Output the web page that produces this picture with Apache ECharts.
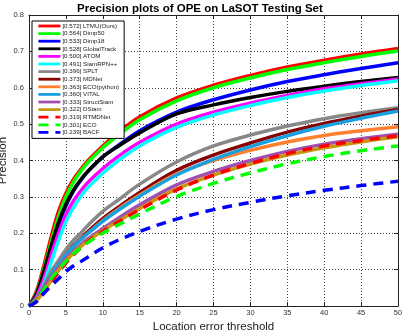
<!DOCTYPE html>
<html>
<head>
<meta charset="utf-8">
<script src="https://cdn.jsdelivr.net/npm/echarts@6/dist/echarts.min.js"></script>
<style>
  html, body { margin: 0; padding: 0; background: #fff; }
  #chart { width: 403px; height: 332px; }
</style>
</head>
<body>
<div id="chart"></div>
<script>
const thresholds = [0, 1, 2, 3, 4, 5, 6, 7, 8, 10, 12, 15, 20, 25, 30, 35, 40, 45, 50];

const ltmu       = [0, 0.040, 0.110, 0.190, 0.260, 0.310, 0.347, 0.375, 0.400, 0.440, 0.475, 0.520, 0.572, 0.607, 0.634, 0.657, 0.676, 0.693, 0.708];
const dimp50     = [0, 0.035, 0.100, 0.175, 0.245, 0.300, 0.340, 0.370, 0.395, 0.435, 0.468, 0.512, 0.564, 0.600, 0.627, 0.650, 0.669, 0.686, 0.701];
const dimp18     = [0, 0.030, 0.090, 0.160, 0.225, 0.275, 0.315, 0.345, 0.370, 0.410, 0.440, 0.482, 0.533, 0.567, 0.594, 0.617, 0.636, 0.653, 0.669];
const globalTrack= [0, 0.032, 0.094, 0.165, 0.230, 0.280, 0.318, 0.347, 0.371, 0.410, 0.438, 0.476, 0.528, 0.553, 0.573, 0.590, 0.604, 0.617, 0.628];
const atom       = [0, 0.025, 0.075, 0.140, 0.200, 0.250, 0.288, 0.316, 0.340, 0.378, 0.410, 0.450, 0.500, 0.533, 0.558, 0.579, 0.597, 0.611, 0.624];
const siamrpn    = [0, 0.020, 0.060, 0.120, 0.180, 0.232, 0.270, 0.301, 0.326, 0.365, 0.398, 0.440, 0.491, 0.525, 0.551, 0.573, 0.591, 0.606, 0.619];
const splt       = [0, 0.020, 0.055, 0.095, 0.125, 0.155, 0.180, 0.200, 0.222, 0.260, 0.290, 0.335, 0.396, 0.440, 0.470, 0.495, 0.515, 0.531, 0.545];
const mdnet      = [0, 0.020, 0.050, 0.085, 0.115, 0.140, 0.165, 0.185, 0.205, 0.240, 0.270, 0.312, 0.373, 0.415, 0.448, 0.478, 0.502, 0.522, 0.540];
const ecoPython  = [0, 0.020, 0.050, 0.085, 0.115, 0.140, 0.163, 0.183, 0.200, 0.235, 0.265, 0.305, 0.363, 0.400, 0.428, 0.451, 0.469, 0.482, 0.493];
const vital      = [0, 0.020, 0.050, 0.085, 0.115, 0.140, 0.163, 0.182, 0.200, 0.233, 0.262, 0.302, 0.360, 0.403, 0.438, 0.468, 0.494, 0.516, 0.536];
const structSiam = [0, 0.020, 0.050, 0.080, 0.105, 0.130, 0.150, 0.168, 0.185, 0.213, 0.240, 0.278, 0.333, 0.370, 0.400, 0.425, 0.445, 0.460, 0.472];
const dsiam      = [0, 0.015, 0.040, 0.070, 0.098, 0.123, 0.145, 0.163, 0.180, 0.207, 0.232, 0.268, 0.322, 0.360, 0.390, 0.415, 0.435, 0.451, 0.465];
const rtmdnet    = [0, 0.012, 0.035, 0.065, 0.092, 0.118, 0.140, 0.160, 0.178, 0.205, 0.230, 0.265, 0.319, 0.360, 0.392, 0.419, 0.440, 0.455, 0.468];
const eco        = [0, 0.015, 0.045, 0.075, 0.100, 0.123, 0.143, 0.160, 0.175, 0.200, 0.222, 0.253, 0.301, 0.337, 0.366, 0.391, 0.411, 0.427, 0.440];
const bacf       = [0, 0.012, 0.035, 0.055, 0.075, 0.095, 0.110, 0.122, 0.135, 0.160, 0.180, 0.205, 0.239, 0.265, 0.285, 0.303, 0.318, 0.331, 0.343];

const trackerNames = [
  '[0.572] LTMU(Ours)', '[0.564] Dimp50', '[0.533] Dimp18', '[0.528] GlobalTrack',
  '[0.500] ATOM', '[0.491] SiamRPN++', '[0.396] SPLT', '[0.373] MDNet',
  '[0.363] ECO(python)', '[0.360] VITAL', '[0.333] StructSiam', '[0.322] DSiam',
  '[0.319] RTMDNet', '[0.301] ECO', '[0.239] BACF'
];
const trackerValues = [ltmu, dimp50, dimp18, globalTrack, atom, siamrpn, splt, mdnet,
  ecoPython, vital, structSiam, dsiam, rtmdnet, eco, bacf];
const colors = ['#ff0000', '#00ff00', '#0000ff', '#000000', '#ff00ff', '#00ffff', '#888888', '#880000',
  '#ff8030', '#18a0e0', '#a050b0', '#c8960f', '#ff0000', '#00ff00', '#0000ff'];
const dashed = [false, false, false, false, false, false, false, false,
  false, false, false, false, true, true, true];

const yTicks = ['0', '0.1', '0.2', '0.3', '0.4', '0.5', '0.6', '0.7', '0.8'];

const chart = echarts.init(document.getElementById('chart'), null, { renderer: 'canvas' });

const font = 'Liberation Sans, Arial, Helvetica, sans-serif';

const series = trackerNames.map((name, i) => ({
  name: name,
  type: 'line',
  data: thresholds.map((x, j) => [x, trackerValues[i][j]]),
  showSymbol: false,
  symbol: 'none',
  smooth: 0.35,
  lineStyle: {
    color: colors[i],
    width: 3.5,
    type: dashed[i] ? [10, 7] : 'solid'
  },
  itemStyle: { color: colors[i] },
  emphasis: { disabled: true }
}));

const frameAxis = {
  axisLine: { show: true, onZero: false, lineStyle: { color: '#222', width: 1 } },
  axisTick: { show: true, inside: true, length: 4, lineStyle: { color: '#222' } },
  axisLabel: { show: false },
  splitLine: { show: false }
};

chart.setOption({
  animation: false,
  backgroundColor: '#fff',
  title: {
    text: 'Precision plots of OPE on LaSOT Testing Set',
    left: 72,
    top: -2,
    textStyle: { fontFamily: font, fontSize: 11.5, fontWeight: 'bold', color: '#000' }
  },
  grid: { left: 29, right: 5, top: 15, bottom: 26, outerBoundsMode: 'none' },
  legend: {
    orient: 'vertical',
    left: 32,
    top: 21,
    padding: [2, 5, 3, 5],
    itemGap: 1.6,
    itemWidth: 22,
    itemHeight: 6,
    backgroundColor: '#fff',
    borderColor: '#000',
    borderWidth: 1,
    borderRadius: 0,
    itemStyle: { opacity: 0 },
    lineStyle: { width: 2.8 },
    data: trackerNames,
    textStyle: { fontFamily: font, fontSize: 6.2, color: '#222', padding: [0, 0, 0, -3] },
    selectedMode: false
  },
  xAxis: [{
    type: 'value',
    min: 0,
    max: 50,
    interval: 5,
    name: 'Location error threshold',
    nameLocation: 'middle',
    nameGap: 14.5,
    nameMoveOverlap: false,
    nameTextStyle: { fontFamily: font, fontSize: 11.5, color: '#222' },
    axisLine: { show: true, onZero: false, lineStyle: { color: '#222', width: 1 } },
    axisTick: { show: true, inside: true, length: 4, lineStyle: { color: '#222' } },
    axisLabel: { fontFamily: font, fontSize: 7.5, color: '#333', margin: 3 },
    splitLine: { show: true, lineStyle: { color: '#444', type: [1, 2], width: 1 } }
  }, Object.assign({ type: 'value', position: 'top', min: 0, max: 50, interval: 5 }, frameAxis)],
  yAxis: [{
    type: 'value',
    min: 0,
    max: 0.8,
    interval: 0.1,
    name: 'Precision',
    nameLocation: 'middle',
    nameGap: 20,
    nameMoveOverlap: false,
    nameTextStyle: { fontFamily: font, fontSize: 11.5, color: '#222' },
    axisLine: { show: true, onZero: false, lineStyle: { color: '#222', width: 1 } },
    axisTick: { show: true, inside: true, length: 4, lineStyle: { color: '#222' } },
    axisLabel: {
      fontFamily: font, fontSize: 7.5, color: '#333', margin: 5,
      formatter: (v) => yTicks[Math.round(v * 10)]
    },
    splitLine: { show: true, lineStyle: { color: '#444', type: [1, 2], width: 1 } }
  }, Object.assign({ type: 'value', position: 'right', min: 0, max: 0.8, interval: 0.1 }, frameAxis)],
  series: series
});
</script>
</body>
</html>
